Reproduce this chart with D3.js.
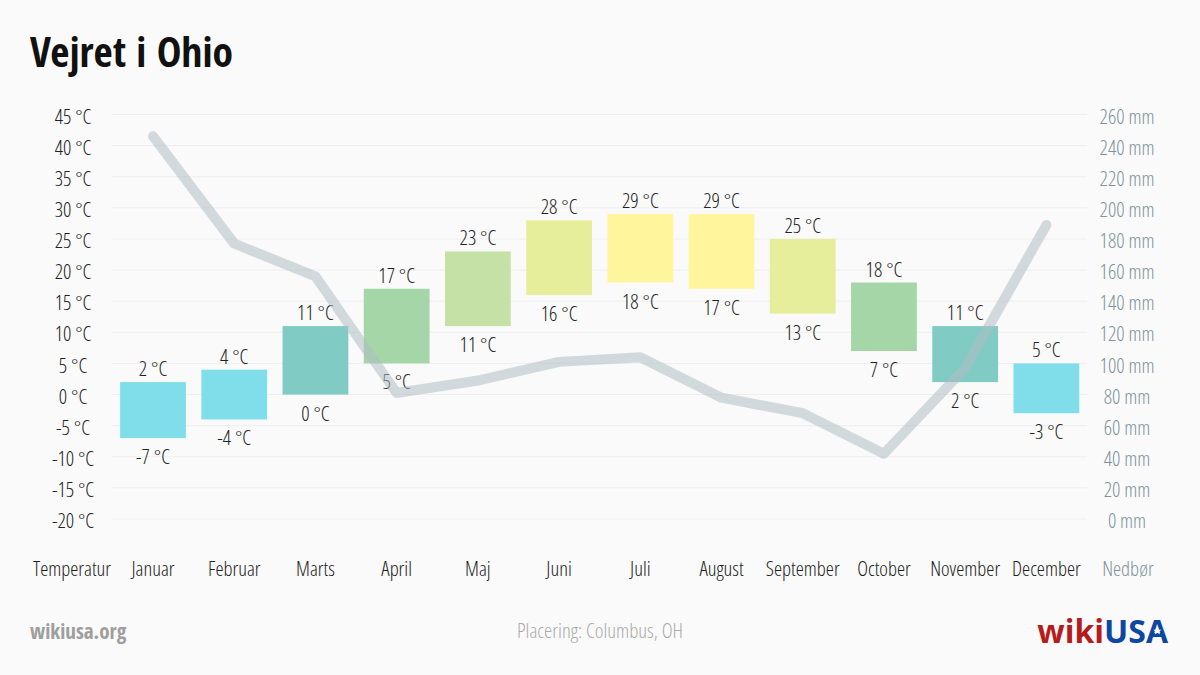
<!DOCTYPE html>
<html><head><meta charset="utf-8">
<script src="https://cdn.jsdelivr.net/npm/d3@7"></script>
<style>
body{margin:0;background:#fafafa;}
svg{display:block;font-family:"Open Sans",sans-serif;font-stretch:75%;font-weight:300;}
</style></head>
<body><svg id="c" width="1200" height="675"></svg>
<script>
const months=["Januar","Februar","Marts","April","Maj","Juni","Juli","August","September","October","November","December"];
const tempMax=[2,4,11,17,23,28,29,29,25,18,11,5];
const tempMin=[-7,-4,0,5,11,16,18,17,13,7,2,-3];
const precip=[246,177,156,81,89,101,104,78,68,42,97,189];
const tempTicks=[-20,-15,-10,-5,0,5,10,15,20,25,30,35,40,45];
const precipTicks=[0,20,40,60,80,100,120,140,160,180,200,220,240,260];
const barColors=["#80deea","#80deea","#80cbc4","#a5d6a7","#c5e1a5","#e6ee9c","#fff59d","#fff59d","#e6ee9c","#a5d6a7","#80cbc4","#80deea"];

const svg=d3.select("#c");
svg.append("rect").attr("width",1200).attr("height",675).attr("fill","#fafafa");
const x=d3.scaleBand().domain(months).range([112.4,1087]).paddingInner(0.19).paddingOuter(0.095);
const yT=d3.scaleLinear().domain([-20,45]).range([519,114.5]);
const yP=d3.scaleLinear().domain([0,260]).range([519,114.5]);

svg.append("text").attr("x",30).attr("y",67).attr("font-size",41.5).attr("font-weight",700)
 .style("font-family","'Open Sans Condensed','Open Sans',sans-serif").attr("fill","#111").text("Vejret i Ohio");

// grid
svg.append("g").selectAll("line").data(tempTicks).join("line")
 .attr("x1",112).attr("x2",1087).attr("y1",d=>yT(d)).attr("y2",d=>yT(d))
 .attr("stroke","#eeeeee").attr("stroke-width",1);

// axes
const axL=svg.append("g").attr("transform","translate(92,0)")
 .call(d3.axisLeft(yT).tickValues(tempTicks).tickSize(0).tickFormat(d=>d+" °C"));
axL.attr("font-family",null).attr("font-size",null);
axL.select(".domain").remove();
axL.selectAll("text").attr("font-size",20.5).attr("fill","#222").attr("dy","0.42em").attr("x",-19).attr("text-anchor","middle");
const axR=svg.append("g").attr("transform","translate(1127,0)")
 .call(d3.axisRight(yP).tickValues(precipTicks).tickSize(0).tickFormat(d=>d+" mm"));
axR.attr("font-family",null).attr("font-size",null);
axR.select(".domain").remove();
axR.selectAll("text").attr("font-size",20.5).attr("fill","#7f939c").attr("dy","0.42em").attr("x",0).attr("text-anchor","middle");

// bars
const g=svg.append("g");
g.selectAll("rect").data(months).join("rect")
 .attr("x",d=>x(d)).attr("width",x.bandwidth())
 .attr("y",(d,i)=>yT(tempMax[i])).attr("height",(d,i)=>yT(tempMin[i])-yT(tempMax[i]))
 .attr("fill",(d,i)=>barColors[i]);
g.selectAll("text.hi").data(months).join("text").attr("class","hi")
 .attr("x",d=>x(d)+x.bandwidth()/2).attr("y",(d,i)=>yT(tempMax[i])-6)
 .attr("text-anchor","middle").attr("font-size",20.5).attr("fill","#222").text((d,i)=>tempMax[i]+" °C");
g.selectAll("text.lo").data(months).join("text").attr("class","lo")
 .attr("x",d=>x(d)+x.bandwidth()/2).attr("y",(d,i)=>yT(tempMin[i])+26)
 .attr("text-anchor","middle").attr("font-size",20.5).attr("fill","#222").text((d,i)=>tempMin[i]+" °C");

// precipitation line
const line=d3.line().x((d,i)=>x(months[i])+x.bandwidth()/2).y(d=>yP(d));
svg.append("path").datum(precip).attr("d",line).attr("fill","none")
 .attr("stroke","#b0bec5").attr("stroke-opacity",0.55).attr("stroke-width",10)
 .attr("stroke-linecap","round").attr("stroke-linejoin","round");

// x labels
svg.append("g").selectAll("text").data(months).join("text")
 .attr("x",d=>x(d)+x.bandwidth()/2).attr("y",576).attr("text-anchor","middle")
 .attr("font-size",20.5).attr("fill","#222").text(d=>d);
svg.append("text").attr("x",72).attr("y",576).attr("text-anchor","middle").attr("font-size",20.5).attr("fill","#222").text("Temperatur");
svg.append("text").attr("x",1128).attr("y",576).attr("text-anchor","middle").attr("font-size",20.5).attr("fill","#7f939c").text("Nedbør");

// footer
svg.append("text").attr("x",30).attr("y",639).attr("font-size",21).attr("font-weight",700)
 .style("font-family","'Open Sans Condensed','Open Sans',sans-serif").attr("fill","#9e9e9e").text("wikiusa.org");
svg.append("text").attr("x",600).attr("y",638).attr("text-anchor","middle").attr("font-size",20.7).attr("fill","#aaaaaa").text("Placering: Columbus, OH");
const logo=svg.append("text").attr("x",1168).attr("y",643).attr("text-anchor","end")
 .attr("font-size",32).attr("font-weight",700).style("font-stretch","100%").style("font-family","'Open Sans',sans-serif");
logo.append("tspan").attr("fill","#b71c1c").text("wiki");
logo.append("tspan").attr("fill","#0d47a1").text("USA");
const bb=logo.node().getBBox();
svg.append("path").attr("d",d3.symbol(d3.symbolStar,22)())
 .attr("transform",`translate(${bb.x+bb.width-11.5},631)`).attr("fill","#fff");
</script></body></html>
